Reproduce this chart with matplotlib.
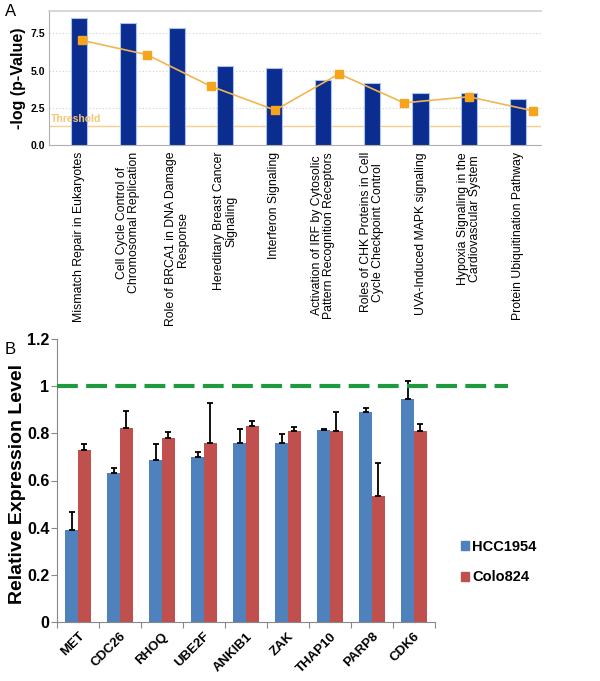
import numpy as np
import matplotlib
matplotlib.use("Agg")
import matplotlib.pyplot as plt
from matplotlib.patches import Patch

plt.rcParams['font.family'] = ['Liberation Sans', 'DejaVu Sans']

# Panel A data: canonical pathways
pathways = [
    "Mismatch Repair in Eukaryotes",
    "Cell Cycle Control of\nChromosomal Replication",
    "Role of BRCA1 in DNA Damage\nResponse",
    "Hereditary Breast Cancer\nSignaling",
    "Interferon Signaling",
    "Activation of IRF by Cytosolic\nPattern Recognition Receptors",
    "Roles of CHK Proteins in Cell\nCycle Checkpoint Control",
    "UVA-Induced MAPK signaling",
    "Hypoxia Signaling in the\nCardiovascular System",
    "Protein Ubiquitination Pathway",
]
neg_log_p = [8.53, 8.22, 7.88, 5.29, 5.18, 4.35, 4.17, 3.46, 3.46, 3.08]
# ratio series (orange squares), its positions read along the category axis
ratio_pos = [0.06, 1.39, 2.70, 4.02, 5.33, 6.66, 7.99, 9.30]
ratio = [7.03, 6.07, 3.95, 2.34, 4.78, 2.83, 3.24, 2.30]
threshold = 1.3

# Panel B data: qPCR validation
genes = ["MET", "CDC26", "RHOQ", "UBE2F", "ANKIB1", "ZAK", "THAP10", "PARP8", "CDK6"]
hcc1954 = [0.39, 0.63, 0.686, 0.699, 0.758, 0.758, 0.816, 0.889, 0.947]
hcc1954_err = [0.078, 0.021, 0.067, 0.023, 0.062, 0.040, 0.002, 0.020, 0.073]
colo824 = [0.729, 0.822, 0.780, 0.761, 0.833, 0.810, 0.808, 0.534, 0.808]
colo824_err = [0.024, 0.074, 0.026, 0.166, 0.020, 0.016, 0.081, 0.141, 0.032]

W, H = 600, 681
fig = plt.figure(figsize=(W / 100, H / 100), dpi=100)


def rect(left, top, right, bottom):
    return [left / W, 1 - bottom / H, (right - left) / W, (bottom - top) / H]


# ---------- Panel A ----------
axA = fig.add_axes(rect(49, 11, 541, 145))
x = np.arange(len(pathways))
axA.bar(x, neg_log_p, width=0.33, color='#0a2d8f', edgecolor='#a9c2f2',
        linewidth=0.8, zorder=3)
axA.plot(ratio_pos, ratio, color='#f3b551', lw=1.2, marker='s', ms=6,
         mfc='#f7a41d', mec='#f7a41d', zorder=4)
axA.axhline(threshold, color='#f8cf86', lw=1.0, zorder=2)
axA.text(-0.57, threshold + 0.12, "Threshold", color='#f6c774', fontsize=7.5,
         fontweight='bold', va='bottom', ha='left', zorder=5)
axA.set_xlim(-0.615, 9.47)
axA.set_ylim(0, 9.0)
axA.set_yticks([0, 2.5, 5.0, 7.5])
axA.set_yticklabels(['0.0', '2.5', '5.0', '7.5'], fontsize=7.5, fontweight='bold')
axA.yaxis.grid(True, ls=(0, (1, 2)), color='#cfcfcf', lw=0.8, zorder=0)
axA.set_axisbelow(True)
for s in ['left', 'bottom']:
    axA.spines[s].set_color('#b0b0b0')
axA.spines['top'].set_color('#d0d0d0')
axA.spines['top'].set_linewidth(1.2)
axA.spines['right'].set_visible(False)
axA.tick_params(axis='y', length=0, pad=3)
axA.tick_params(axis='x', length=0, pad=5)
axA.set_xticks(x)
axA.set_xticklabels(pathways, rotation=90, fontsize=8.8, va='top', ha='center',
                    multialignment='center', linespacing=1.0)
axA.set_ylabel("-log (p-Value)", fontsize=11.5, fontweight='bold', labelpad=3)
fig.text(5 / W, 1 - 12 / H, "A", fontsize=12, va='center', ha='left')

# ---------- Panel B ----------
axB = fig.add_axes(rect(57, 339, 435, 622))
xb = np.arange(len(genes))
bw = 0.3
err_style = dict(ecolor='black', elinewidth=1.3, capthick=1.3)
axB.bar(xb - bw / 2, hcc1954, width=bw, color='#4f81bd', zorder=3,
        yerr=[np.zeros(len(genes)), hcc1954_err], capsize=2.5, error_kw=err_style)
axB.bar(xb + bw / 2, colo824, width=bw, color='#c0504d', zorder=3,
        yerr=[np.zeros(len(genes)), colo824_err], capsize=2.5, error_kw=err_style)
axB.axhline(1.0, xmin=0, xmax=(508 - 57) / (435 - 57), color='#1f9a3e', lw=3,
            ls=(0, (5, 2)), clip_on=False, zorder=4)
axB.set_xlim(-0.5, len(genes) - 0.5)
axB.set_ylim(0, 1.2)
axB.set_yticks([0, 0.2, 0.4, 0.6, 0.8, 1.0, 1.2])
axB.set_yticklabels(['0', '0.2', '0.4', '0.6', '0.8', '1', '1.2'],
                    fontsize=11.5, fontweight='bold')
axB.set_xticks(np.arange(len(genes) + 1) - 0.5)
axB.set_xticklabels([])
axB.set_xticks(xb, minor=True)
axB.set_xticklabels(genes, minor=True, rotation=45, ha='right',
                    rotation_mode='anchor', fontsize=9.5, fontweight='bold')
axB.tick_params(axis='x', which='major', length=4, direction='out', color='#888888')
axB.tick_params(axis='x', which='minor', length=0, pad=6)
axB.tick_params(axis='y', length=4, direction='out', color='#888888', pad=1.5)
for s in ['left', 'bottom']:
    axB.spines[s].set_color('#888888')
for s in ['top', 'right']:
    axB.spines[s].set_visible(False)
axB.set_ylabel("Relative Expression Level", fontsize=14, fontweight='bold')
axB.yaxis.set_label_coords((26 - 57) / (435 - 57), 0.486)
fig.text(5 / W, 1 - 350 / H, "B", fontsize=12, va='center', ha='left')

handles = [Patch(color='#4f81bd', label='HCC1954'),
           Patch(color='#c0504d', label='Colo824')]
fig.legend(handles=handles, loc='center left',
           bbox_to_anchor=(448 / W, 1 - 562 / H), frameon=False,
           handlelength=0.55, handleheight=0.55, handletextpad=0.2,
           labelspacing=1.15, prop=dict(size=10.5, weight='bold'))

fig.savefig("out.png", dpi=100)
